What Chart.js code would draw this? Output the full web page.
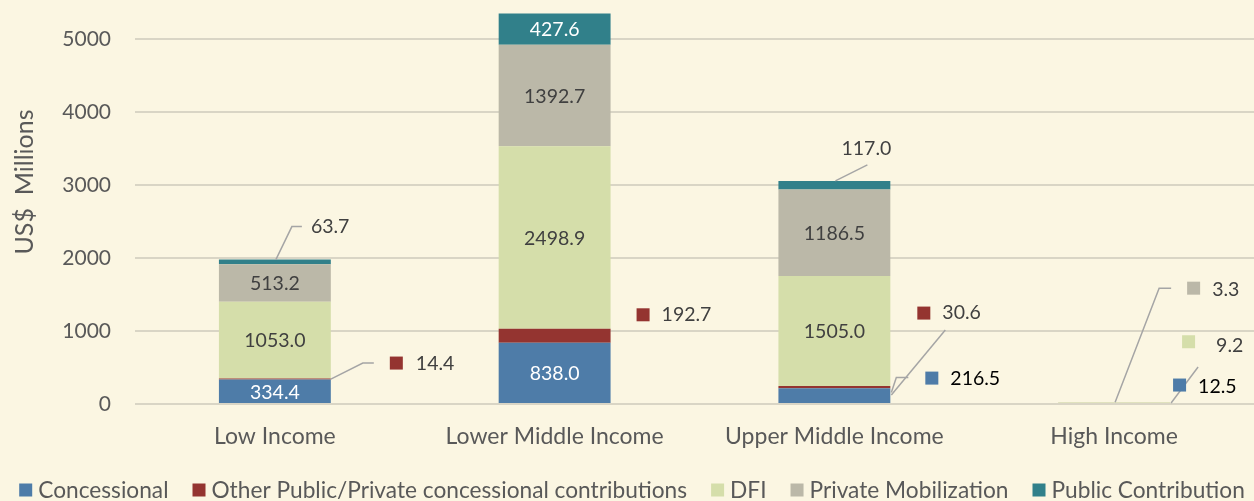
<!DOCTYPE html>
<html>
<head>
<meta charset="utf-8">
<script src="https://cdn.jsdelivr.net/npm/chart.js@4.4.1/dist/chart.umd.min.js"></script>
<style>
  html, body { margin: 0; padding: 0; background: #fbf6e2; }
  #wrap { width: 1254px; height: 501px; position: relative; }
</style>
</head>
<body>
<div id="wrap"><canvas id="chart"></canvas></div>
<script>
// data
const categories = ['Low Income', 'Lower Middle Income', 'Upper Middle Income', 'High Income'];
const concessional = [334.4, 838.0, 216.5, 12.5];
const otherConcessional = [14.4, 192.7, 30.6, 0];
const dfi = [1053.0, 2498.9, 1505.0, 9.2];
const privateMobilization = [513.2, 1392.7, 1186.5, 3.3];
const publicContribution = [63.7, 427.6, 117.0, 0];
const yTicks = [0, 1000, 2000, 3000, 4000, 5000];

const seriesNames = ['Concessional', 'Other Public/Private concessional contributions', 'DFI', 'Private Mobilization', 'Public Contribution'];
const seriesColors = ['#4e7ca8', '#943430', '#d5deaa', '#bbb8a8', '#31808a'];
const labelColors = ['#ffffff', '#404040', '#404040', '#404040', '#ffffff'];

const FONT = 'Lato';
const textGray = '#595959';

// labels drawn outside the bars (dataset-category), offsets from an anchor on the bar
const callouts = {
  '4-0': { ax: 'center', ay: 'top', line: [[1, 0], [17, -33], [27, -33]], text: [36, -33] },
  '1-0': { ax: 'right', ay: 'mid', line: [[0, 0], [32, -16], [43, -16]], marker: [65.5, -16], text: [85, -15] },
  '1-1': { ax: 'right', ay: 'mid', marker: [32.5, -21], text: [51, -21] },
  '4-2': { ax: 'center', ay: 'top', line: [[1, 0], [33, -16]], text: [32, -32], align: 'center' },
  '1-2': { ax: 'right', ay: 'mid', line: [[1, 8], [55, -57]], marker: [33.5, -74], text: [52, -74] },
  '0-2': { ax: 'right', ay: 'mid', line: [[1, -3], [6, -18], [18, -18]], marker: [41.5, -17.5], text: [60, -17], color: '#000000' },
  '0-3': { ax: 'right', ay: 'mid', line: [[1, 0], [28, -36]], marker: [9.5, -18], text: [28, -16], color: '#000000' },
  '2-3': { ax: 'right', ay: 'mid', marker: [18.5, -61], text: [46, -57] },
  '3-3': { ax: 'center', ay: 'top', line: [[1, 0], [45, -114], [57, -114]], marker: [79.5, -114], text: [98, -112] }
};

const valueLabels = {
  id: 'valueLabels',
  afterDatasetsDraw(chart) {
    const ctx = chart.ctx;
    ctx.save();
    ctx.font = '19.5px ' + FONT;
    ctx.textBaseline = 'middle';
    chart.data.datasets.forEach((ds, d) => {
      const meta = chart.getDatasetMeta(d);
      ds.data.forEach((v, i) => {
        if (!v) return;
        const p = meta.data[i].getProps(['x', 'y', 'base', 'width'], true);
        const top = Math.min(p.y, p.base), bot = Math.max(p.y, p.base);
        const txt = v.toFixed(1);
        const c = callouts[d + '-' + i];
        if (!c) {
          ctx.fillStyle = labelColors[d];
          ctx.textAlign = 'center';
          ctx.fillText(txt, p.x, (top + bot) / 2 + 1);
          return;
        }
        const ax = c.ax === 'right' ? p.x + p.width / 2 : p.x;
        const ay = c.ay === 'top' ? top : (top + bot) / 2;
        if (c.line) {
          ctx.strokeStyle = '#a5a5a5';
          ctx.lineWidth = 1.5;
          ctx.beginPath();
          c.line.forEach((pt, k) => {
            if (k === 0) ctx.moveTo(ax + pt[0], ay + pt[1]);
            else ctx.lineTo(ax + pt[0], ay + pt[1]);
          });
          ctx.stroke();
        }
        if (c.marker) {
          ctx.fillStyle = seriesColors[d];
          ctx.fillRect(ax + c.marker[0] - 6.5, ay + c.marker[1] - 6.5, 13, 13);
        }
        ctx.fillStyle = c.color || '#404040';
        ctx.textAlign = c.align || 'left';
        ctx.fillText(txt, ax + c.text[0], ay + c.text[1]);
      });
    });
    ctx.restore();
  }
};

const extras = {
  id: 'extras',
  afterDraw(chart) {
    const ctx = chart.ctx;
    ctx.save();
    // y axis title
    ctx.translate(25, 182);
    ctx.rotate(-Math.PI / 2);
    ctx.font = '25px ' + FONT;
    ctx.fillStyle = textGray;
    ctx.textAlign = 'center';
    ctx.textBaseline = 'middle';
    ctx.fillText('US$  Millions', 0, 0);
    ctx.restore();

    // legend along the bottom
    ctx.save();
    ctx.font = '22.7px ' + FONT;
    ctx.textBaseline = 'middle';
    ctx.textAlign = 'left';
    const box = 13, gap = 6, spacing = 24;
    const widths = seriesNames.map(n => box + gap + ctx.measureText(n).width);
    const total = widths.reduce((a, b) => a + b, 0) + spacing * (widths.length - 1);
    let x = (chart.width - total) / 2 + 5;
    const y = 490;
    seriesNames.forEach((n, k) => {
      ctx.fillStyle = seriesColors[k];
      ctx.fillRect(x, y - box / 2, box, box);
      ctx.fillStyle = textGray;
      ctx.fillText(n, x + box + gap, y + 1);
      x += widths[k] + spacing;
    });
    ctx.restore();
  }
};

function buildChart() {
  const seriesData = [concessional, otherConcessional, dfi, privateMobilization, publicContribution];
  const datasets = seriesNames.map((name, k) => ({
    label: name,
    data: seriesData[k],
    backgroundColor: seriesColors[k],
    borderWidth: 0,
    barPercentage: 0.5,
    categoryPercentage: 0.8
  }));

  new Chart(document.getElementById('chart'), {
    type: 'bar',
    data: { labels: categories, datasets: datasets },
    options: {
      responsive: true,
      maintainAspectRatio: false,
      animation: false,
      layout: { padding: { top: 2.5, bottom: 53, left: 0, right: 0 } },
      plugins: {
        legend: { display: false },
        tooltip: { enabled: false }
      },
      scales: {
        x: {
          stacked: true,
          grid: { display: false, drawTicks: false },
          border: { display: false },
          afterFit: s => { s.height = 44; s.paddingLeft = 0; s.paddingRight = 0; },
          ticks: { color: textGray, font: { family: FONT, size: 23 }, padding: 19, maxRotation: 0 }
        },
        y: {
          stacked: true,
          min: 0,
          max: 5500,
          afterBuildTicks: s => { s.ticks = yTicks.map(v => ({ value: v })).concat([{ value: 5500 }]); },
          afterFit: s => { s.width = 135; s.paddingTop = 0; s.paddingBottom = 0; },
          grid: { color: '#d9d5c5', lineWidth: 2, drawTicks: false },
          border: { display: false },
          ticks: {
            color: textGray,
            font: { family: FONT, size: 21 },
            padding: 24,
            callback: v => (yTicks.includes(v) ? String(v) : null)
          }
        }
      }
    },
    plugins: [valueLabels, extras]
  });
}

if (document.fonts && document.fonts.load) {
  document.fonts.load('22px ' + FONT).then(buildChart, buildChart);
} else {
  buildChart();
}
</script>
</body>
</html>
